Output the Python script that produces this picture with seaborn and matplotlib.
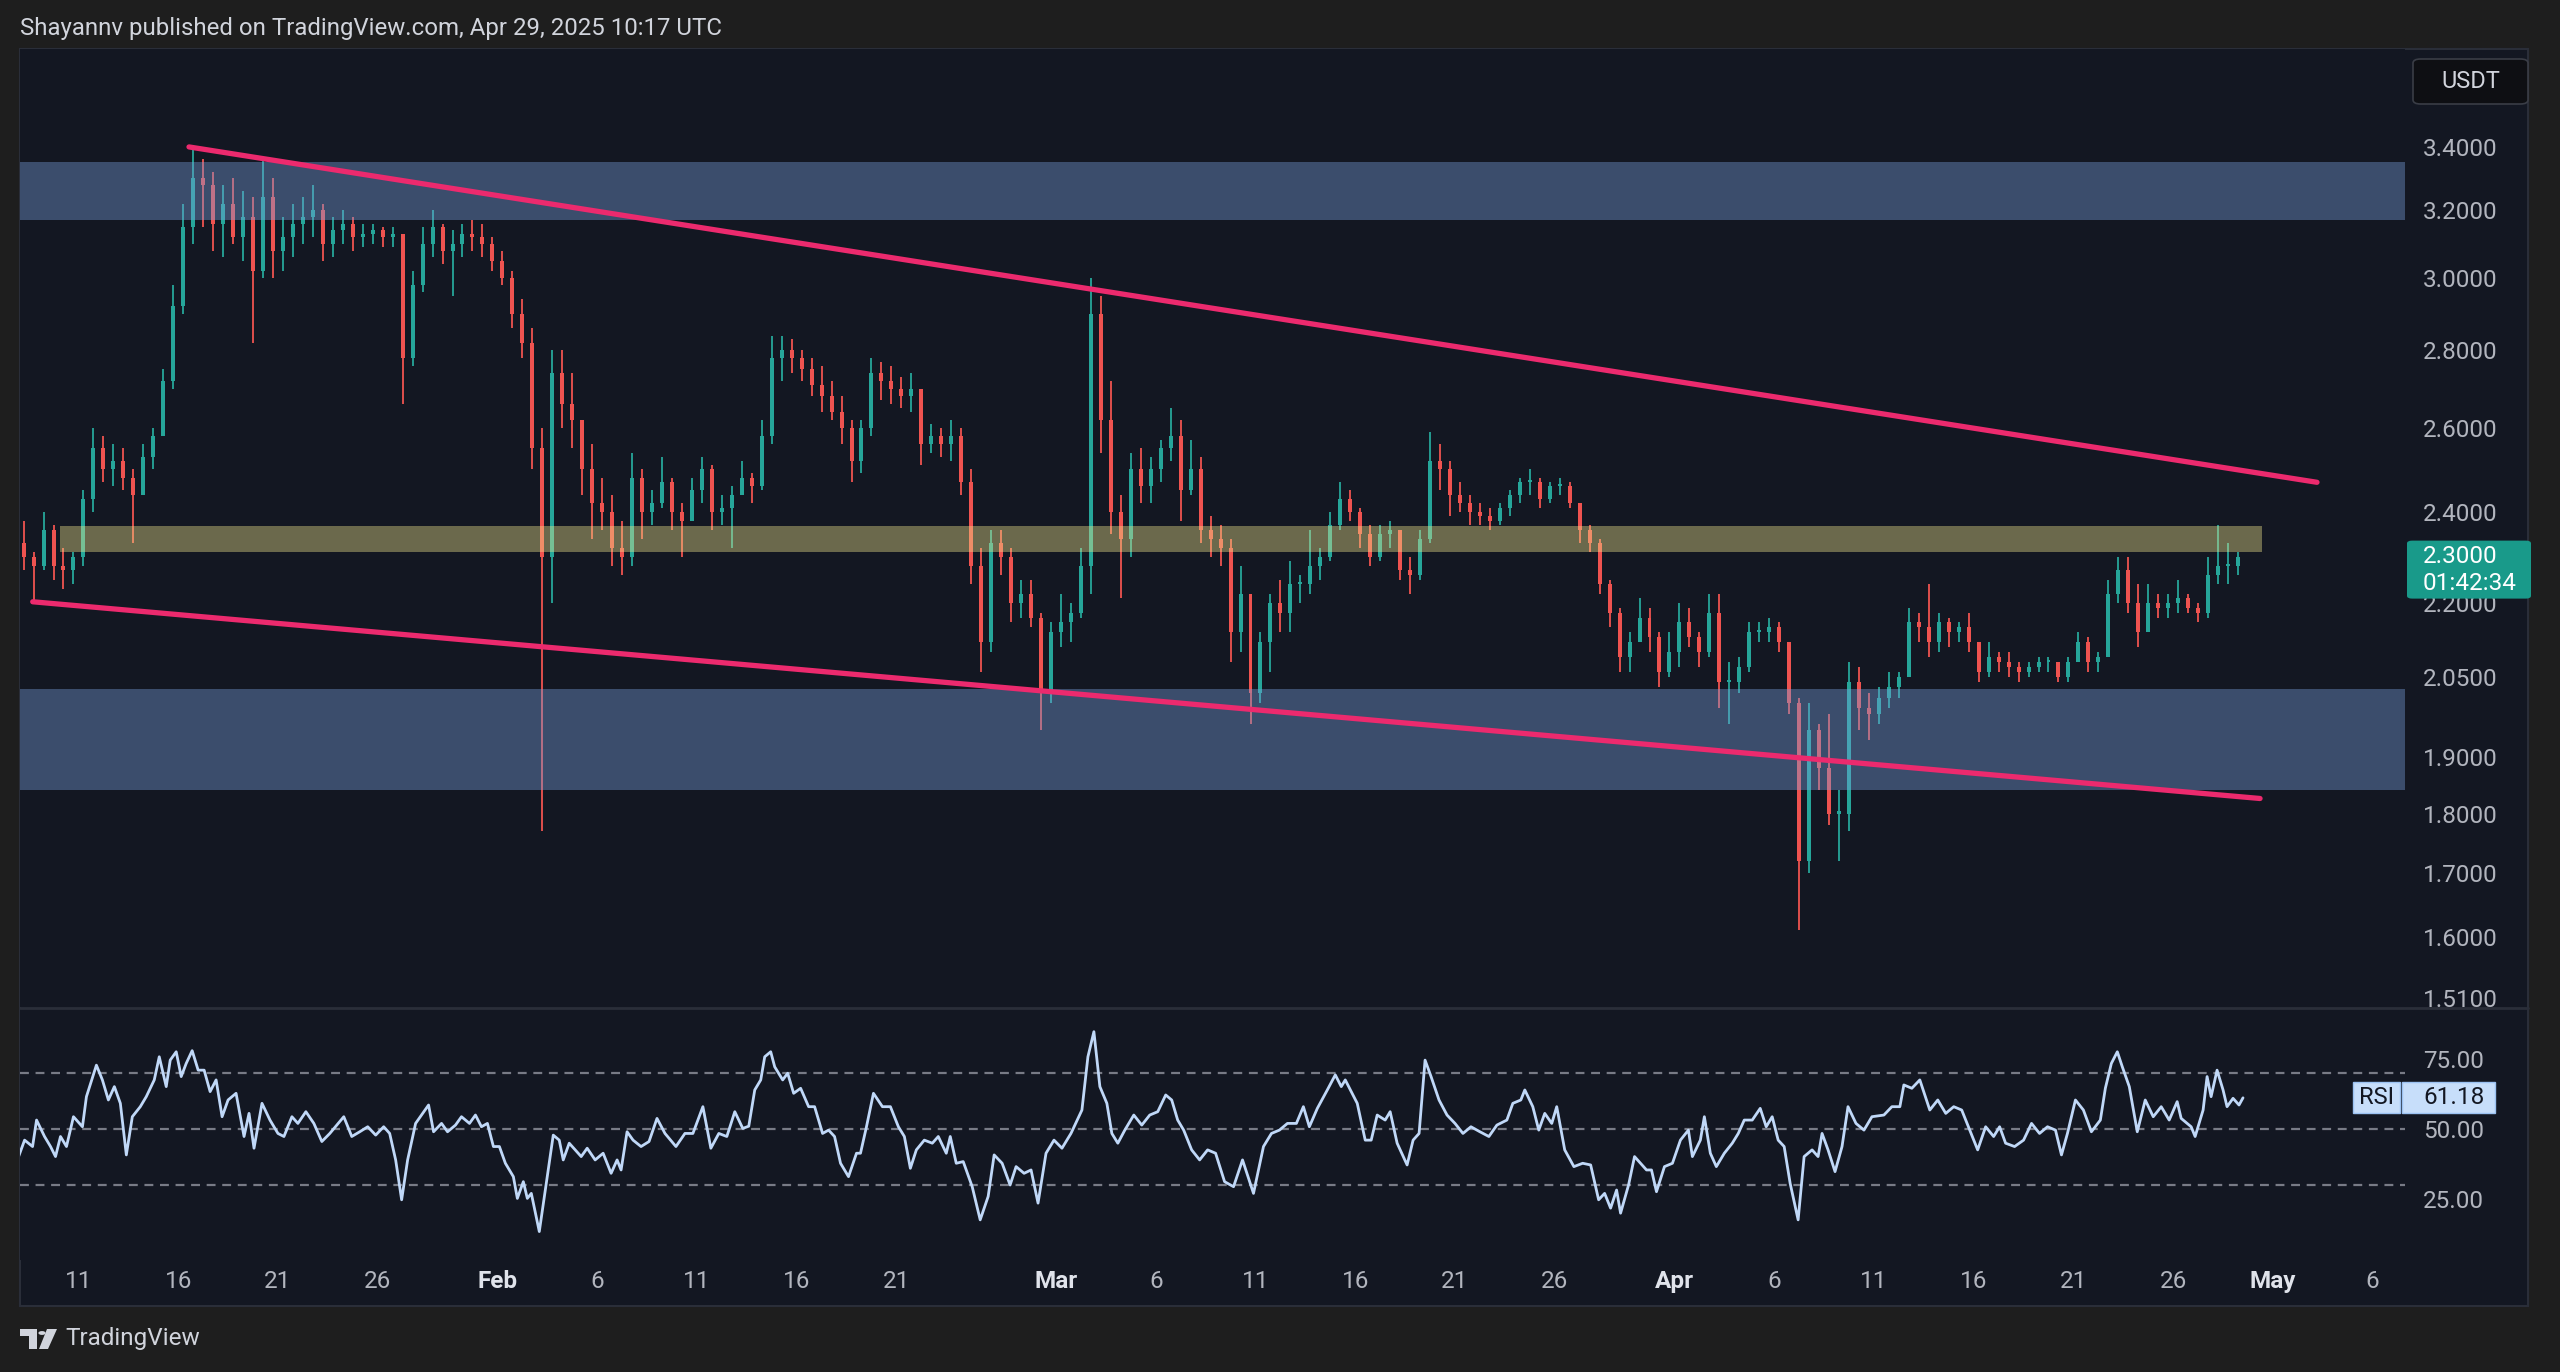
import numpy as np
import pandas as pd
import matplotlib
matplotlib.use("Agg")
import matplotlib.pyplot as plt
from matplotlib.patches import Rectangle, Polygon, Circle, FancyBboxPatch
from matplotlib.lines import Line2D
from matplotlib.ticker import NullLocator, FixedLocator, FixedFormatter
import seaborn as sns

# ------------------------------------------------------------------ data
title = "Shayannv published on TradingView.com, Apr 29, 2025 10:17 UTC"
candle_start = "2025-01-08 06:00"   # centre of first 12h candle
first_open = 2.33
high = [2.38, 2.31, 2.40, 2.37, 2.32, 2.31, 2.45, 2.60, 2.58, 2.56,
        2.55, 2.50, 2.56, 2.60, 2.75, 2.98, 3.22, 3.40, 3.36, 3.32,
        3.28, 3.30, 3.26, 3.24, 3.36, 3.30, 3.18, 3.22, 3.24, 3.28,
        3.22, 3.18, 3.20, 3.18, 3.16, 3.16, 3.15, 3.15, 3.13, 3.02,
        3.15, 3.20, 3.16, 3.14, 3.16, 3.17, 3.16, 3.12, 3.08, 3.02,
        2.94, 2.86, 2.60, 2.80, 2.80, 2.74, 2.62, 2.56, 2.48, 2.44,
        2.38, 2.54, 2.50, 2.45, 2.53, 2.48, 2.42, 2.48, 2.53, 2.51,
        2.44, 2.46, 2.52, 2.49, 2.62, 2.84, 2.84, 2.83, 2.80, 2.78,
        2.76, 2.72, 2.68, 2.62, 2.62, 2.78, 2.77, 2.76, 2.73, 2.74,
        2.70, 2.61, 2.60, 2.62, 2.60, 2.50, 2.32, 2.36, 2.36, 2.32,
        2.25, 2.25, 2.18, 2.16, 2.22, 2.20, 2.32, 3.00, 2.95, 2.72,
        2.44, 2.54, 2.55, 2.53, 2.57, 2.65, 2.62, 2.57, 2.53, 2.39,
        2.37, 2.34, 2.28, 2.22, 2.14, 2.22, 2.25, 2.29, 2.26, 2.36,
        2.32, 2.40, 2.47, 2.45, 2.41, 2.37, 2.37, 2.38, 2.36, 2.30,
        2.36, 2.59, 2.56, 2.52, 2.47, 2.44, 2.42, 2.41, 2.42, 2.45,
        2.48, 2.50, 2.48, 2.47, 2.48, 2.47, 2.42, 2.37, 2.34, 2.25,
        2.19, 2.14, 2.21, 2.19, 2.14, 2.14, 2.20, 2.19, 2.14, 2.22,
        2.22, 2.08, 2.09, 2.16, 2.16, 2.17, 2.16, 2.12, 2.01, 2.00,
        1.96, 1.98, 1.84, 2.08, 2.07, 2.02, 2.03, 2.06, 2.06, 2.19,
        2.18, 2.24, 2.18, 2.17, 2.16, 2.18, 2.12, 2.12, 2.10, 2.10,
        2.08, 2.08, 2.09, 2.09, 2.08, 2.09, 2.14, 2.13, 2.10, 2.25,
        2.30, 2.30, 2.24, 2.24, 2.22, 2.22, 2.25, 2.22, 2.20, 2.30,
        2.37, 2.33, 2.31]
low = [2.27, 2.20, 2.27, 2.25, 2.23, 2.24, 2.28, 2.40, 2.47, 2.46,
       2.45, 2.33, 2.44, 2.50, 2.58, 2.70, 2.90, 3.10, 3.15, 3.08,
       3.06, 3.10, 3.05, 2.82, 3.00, 3.00, 3.02, 3.06, 3.10, 3.12,
       3.05, 3.06, 3.10, 3.08, 3.09, 3.10, 3.09, 3.09, 2.66, 2.76,
       2.96, 3.06, 3.04, 2.95, 3.06, 3.08, 3.06, 3.02, 2.98, 2.86,
       2.78, 2.50, 1.77, 2.20, 2.60, 2.55, 2.44, 2.34, 2.36, 2.28,
       2.26, 2.28, 2.34, 2.37, 2.41, 2.36, 2.30, 2.38, 2.42, 2.36,
       2.37, 2.32, 2.44, 2.42, 2.45, 2.56, 2.72, 2.74, 2.72, 2.68,
       2.64, 2.62, 2.56, 2.47, 2.49, 2.58, 2.67, 2.66, 2.65, 2.64,
       2.51, 2.54, 2.53, 2.52, 2.44, 2.24, 2.06, 2.10, 2.26, 2.16,
       2.17, 2.15, 1.95, 2.00, 2.11, 2.12, 2.17, 2.22, 2.54, 2.35,
       2.21, 2.30, 2.42, 2.42, 2.47, 2.52, 2.38, 2.44, 2.33, 2.30,
       2.28, 2.08, 2.10, 1.96, 2.00, 2.06, 2.14, 2.14, 2.20, 2.22,
       2.25, 2.29, 2.36, 2.38, 2.32, 2.28, 2.29, 2.32, 2.25, 2.22,
       2.25, 2.33, 2.45, 2.39, 2.40, 2.37, 2.37, 2.36, 2.37, 2.39,
       2.42, 2.44, 2.41, 2.42, 2.44, 2.41, 2.33, 2.31, 2.22, 2.15,
       2.06, 2.06, 2.12, 2.10, 2.03, 2.05, 2.07, 2.11, 2.07, 2.09,
       1.99, 1.96, 2.02, 2.06, 2.12, 2.12, 2.10, 1.98, 1.61, 1.70,
       1.84, 1.78, 1.72, 1.77, 1.95, 1.93, 1.96, 1.99, 2.01, 2.05,
       2.12, 2.09, 2.10, 2.11, 2.12, 2.10, 2.04, 2.05, 2.06, 2.05,
       2.04, 2.05, 2.06, 2.06, 2.04, 2.04, 2.08, 2.06, 2.06, 2.09,
       2.20, 2.18, 2.11, 2.14, 2.17, 2.17, 2.18, 2.18, 2.16, 2.17,
       2.24, 2.24, 2.26]
close = [2.30, 2.28, 2.36, 2.28, 2.27, 2.30, 2.43, 2.55, 2.50, 2.52,
         2.48, 2.44, 2.53, 2.58, 2.72, 2.92, 3.15, 3.30, 3.28, 3.16,
         3.22, 3.12, 3.18, 3.02, 3.24, 3.08, 3.12, 3.16, 3.18, 3.20,
         3.10, 3.14, 3.16, 3.12, 3.13, 3.14, 3.12, 3.13, 2.78, 2.98,
         3.10, 3.15, 3.08, 3.10, 3.13, 3.12, 3.10, 3.05, 3.00, 2.90,
         2.82, 2.55, 2.30, 2.74, 2.66, 2.62, 2.50, 2.42, 2.40, 2.32,
         2.30, 2.48, 2.40, 2.42, 2.47, 2.40, 2.38, 2.45, 2.50, 2.40,
         2.41, 2.44, 2.48, 2.46, 2.58, 2.78, 2.80, 2.78, 2.75, 2.71,
         2.68, 2.64, 2.60, 2.52, 2.60, 2.74, 2.72, 2.70, 2.68, 2.70,
         2.56, 2.58, 2.56, 2.58, 2.47, 2.28, 2.12, 2.33, 2.30, 2.20,
         2.22, 2.17, 2.02, 2.14, 2.16, 2.18, 2.28, 2.90, 2.62, 2.40,
         2.34, 2.50, 2.46, 2.50, 2.55, 2.58, 2.45, 2.50, 2.36, 2.34,
         2.32, 2.14, 2.22, 2.02, 2.12, 2.20, 2.18, 2.24, 2.24, 2.28,
         2.30, 2.37, 2.43, 2.40, 2.35, 2.30, 2.35, 2.36, 2.27, 2.26,
         2.34, 2.52, 2.50, 2.44, 2.42, 2.40, 2.39, 2.38, 2.41, 2.44,
         2.47, 2.47, 2.43, 2.46, 2.46, 2.42, 2.36, 2.33, 2.24, 2.18,
         2.09, 2.12, 2.17, 2.13, 2.06, 2.10, 2.16, 2.13, 2.10, 2.18,
         2.04, 2.04, 2.07, 2.14, 2.14, 2.15, 2.12, 2.00, 1.72, 1.95,
         1.88, 1.80, 1.80, 2.04, 1.99, 1.98, 2.01, 2.03, 2.05, 2.16,
         2.15, 2.12, 2.16, 2.14, 2.15, 2.12, 2.06, 2.09, 2.08, 2.07,
         2.06, 2.07, 2.08, 2.08, 2.05, 2.08, 2.12, 2.08, 2.09, 2.22,
         2.27, 2.20, 2.14, 2.20, 2.19, 2.20, 2.21, 2.19, 2.18, 2.26,
         2.28, 2.28, 2.30]

# RSI readings: (days after 2025-01-01 00:00, value)
rsi_day = [7.0, 7.3, 7.7, 7.9, 8.3, 8.6, 8.85, 9.1, 9.4, 9.75, 10.2, 10.4, 10.9, 11.2, 11.5,
           11.8, 12.1, 12.4, 12.7, 13.1, 13.4, 13.8, 14.05, 14.4, 14.6, 14.9, 15.15, 15.4, 15.7,
           16.0, 16.3, 16.6, 16.9, 17.2, 17.5, 17.9, 18.3, 18.55, 18.8, 19.2, 19.6, 20.0, 20.3,
           20.7, 21.0, 21.4, 21.8, 22.2, 22.6, 23.3, 23.7, 24.1, 24.5, 24.9, 25.3, 25.6, 25.9,
           26.2, 26.5, 26.9, 27.55, 27.8, 28.2, 28.5, 28.9, 29.2, 29.6, 29.9, 30.2, 30.5, 30.8,
           31.1, 31.4, 31.8, 32.0, 32.3, 32.5, 32.7, 33.1, 33.4, 33.8, 34.1, 34.3, 34.6, 34.9,
           35.2, 35.5, 35.9, 36.3, 36.7, 37.0, 37.2, 37.5, 37.8, 38.2, 38.6, 39.0, 39.4, 39.95,
           40.4, 40.8, 41.3, 41.7, 42.1, 42.5, 42.9, 43.3, 43.6, 43.9, 44.2, 44.4, 44.7, 44.9,
           45.3, 45.55, 45.85, 46.2, 46.6, 46.9, 47.3, 47.6, 47.9, 48.2, 48.6, 49.0, 49.2, 49.5,
           49.85, 50.3, 50.7, 51.1, 51.4, 51.7, 52.0, 52.4, 52.8, 53.1, 53.5, 53.7, 54.0, 54.35,
           54.8, 55.2, 55.6, 55.9, 56.3, 56.7, 57.0, 57.4, 57.75, 58.1, 58.5, 58.9, 59.3, 59.75,
           60.3, 60.6, 60.9, 61.2, 61.55, 61.8, 62.1, 62.45, 62.9, 63.3, 63.7, 64.1, 64.5, 64.8,
           65.1, 65.4, 65.8, 66.2, 66.6, 67.0, 67.45, 67.9, 68.35, 68.9, 69.4, 69.8, 70.2, 70.6,
           71.05, 71.4, 71.7, 72.1, 72.6, 73.0, 73.3, 73.5, 74.1, 74.5, 74.8, 75.1, 75.5, 75.75,
           76.1, 76.6, 76.9, 77.2, 77.5, 77.8, 78.2, 78.6, 79.0, 79.4, 79.8, 80.25, 80.7, 81.1,
           81.6, 81.9, 82.3, 82.5, 82.9, 83.2, 83.5, 83.85, 84.1, 84.5, 84.96, 85.4, 85.8, 86.2,
           86.5, 86.8, 87.1, 87.3, 87.7, 88.0, 88.6, 88.85, 89.1, 89.5, 89.9, 90.3, 90.7, 90.9,
           91.3, 91.5, 91.8, 92.1, 92.5, 92.9, 93.2, 93.5, 93.9, 94.3, 94.6, 94.9, 95.2, 95.5,
           95.8, 96.2, 96.5, 96.9, 97.2, 97.4, 97.7, 98.05, 98.4, 98.7, 99.1, 99.5, 99.9, 100.5,
           100.9, 101.3, 101.5, 101.9, 102.3, 102.8, 103.2, 103.6, 104.0, 104.4, 104.8, 105.2,
           105.6, 106.0, 106.3, 106.6, 107.05, 107.5, 107.9, 108.3, 108.7, 109.1, 109.4, 109.7,
           110.1, 110.5, 110.9, 111.35, 111.6, 111.9, 112.2, 112.45, 112.8, 113.2, 113.6, 114.0,
           114.4, 114.8, 115.2, 115.4, 115.9, 116.1, 116.5, 116.7, 116.9, 117.2, 117.5, 117.7,
           118.0, 118.3, 118.5]
rsi_value = [40.1, 46.0, 43.7, 53.2, 47.3, 43.7, 40.1, 47.3, 43.7, 54.4, 50.8, 61.6, 72.9, 67.6, 60.4,
             65.2, 59.2, 40.7, 54.4, 58.0, 61.6, 67.6, 75.9, 65.2, 74.7, 77.7, 68.8, 73.5, 78.1,
             71.1, 71.1, 63.4, 67.6, 54.4, 60.4, 62.8, 47.3, 55.6, 43.1, 59.2, 53.2, 48.4, 47.3,
             54.4, 52.0, 56.2, 52.0, 45.5, 48.4, 54.4, 47.3, 49.0, 50.8, 47.8, 50.8, 48.4, 38.9,
             24.6, 38.9, 52.0, 58.6, 49.0, 52.0, 49.0, 51.4, 54.4, 52.0, 55.0, 50.8, 52.0, 43.7,
             43.7, 37.7, 32.9, 25.1, 31.1, 25.1, 26.9, 13.2, 28.1, 47.8, 46.0, 38.9, 44.9, 42.5,
             40.1, 43.1, 38.9, 41.3, 34.1, 38.9, 35.3, 49.0, 46.0, 43.7, 45.5, 53.8, 48.4, 43.7,
             48.4, 48.4, 58.0, 43.1, 48.4, 47.3, 56.2, 50.2, 51.0, 64.0, 67.6, 75.9, 77.7, 72.3,
             67.6, 70.0, 62.8, 64.6, 58.0, 58.0, 48.4, 49.6, 47.3, 37.7, 32.9, 41.3, 41.3, 50.8,
             62.8, 58.0, 58.0, 50.8, 47.3, 35.9, 42.5, 46.0, 44.9, 47.3, 41.3, 47.3, 37.7, 38.3,
             29.3, 17.4, 25.8, 40.7, 37.7, 29.9, 36.5, 34.1, 35.3, 23.4, 41.3, 46.0, 43.1, 48.4,
             56.8, 75.9, 84.9, 65.2, 59.2, 48.4, 44.9, 49.6, 55.0, 51.4, 55.0, 56.2, 62.2, 60.4,
             53.2, 49.6, 42.5, 38.9, 42.5, 41.3, 31.1, 29.3, 38.9, 26.9, 43.7, 48.4, 49.6, 52.0,
             52.0, 58.0, 50.8, 57.4, 64.0, 69.4, 65.2, 67.6, 59.2, 46.0, 46.0, 55.0, 53.2, 56.2,
             44.9, 37.1, 46.0, 48.4, 74.7, 68.8, 60.4, 55.0, 52.0, 48.4, 50.8, 49.0, 47.3, 51.4,
             53.2, 59.2, 60.4, 64.0, 58.0, 49.6, 55.6, 52.0, 58.0, 42.5, 36.5, 37.7, 37.1, 24.6,
             26.9, 21.6, 28.1, 19.8, 29.9, 40.1, 35.3, 35.3, 27.5, 36.5, 37.7, 46.0, 49.6, 40.1,
             46.0, 54.4, 41.3, 36.5, 41.3, 44.9, 48.4, 53.2, 53.2, 57.4, 50.8, 54.4, 46.0, 43.7,
             30.5, 17.4, 40.1, 42.5, 40.1, 48.4, 42.5, 34.7, 43.7, 58.0, 52.0, 49.6, 54.4, 55.0,
             58.0, 58.0, 65.8, 64.6, 67.6, 56.8, 60.4, 55.6, 58.0, 56.8, 49.6, 42.5,
             50.8, 47.3, 50.8, 44.9, 43.7, 46.0, 52.0, 48.4, 50.8, 49.6, 40.7, 48.4,
             60.4, 56.8, 49.0, 53.2, 64.6, 73.5, 77.7, 72.3, 65.2, 49.0, 60.4, 54.4,
             58.0, 53.2, 59.8, 53.8, 50.8, 47.3, 56.8, 68.8, 61.6, 71.1, 64.0, 58.0,
             61.0, 58.6, 61.18]
rsi_last = 61.18
rsi_levels = [70, 50, 30]
rsi_ticks = [75, 50, 25]

upper_band = (3.171, 3.352)
lower_band = (1.840, 2.027)
mid_band = (2.310, 2.368)
mid_band_dates = ["2025-01-10 02:00", "2025-04-30 11:00"]

upper_trend_dates = ["2025-01-16 13:00", "2025-05-03 05:00"]
upper_trend_prices = [3.40, 2.469]
lower_trend_dates = ["2025-01-08 17:00", "2025-04-30 08:30"]
lower_trend_prices = [2.203, 1.826]

price_ticks = [3.4, 3.2, 3.0, 2.8, 2.6, 2.4, 2.2, 2.05, 1.9, 1.8, 1.7, 1.6, 1.51]
date_ticks = ["2025-01-11", "2025-01-16", "2025-01-21", "2025-01-26", "2025-02-01",
              "2025-02-06", "2025-02-11", "2025-02-16", "2025-02-21", "2025-03-01",
              "2025-03-06", "2025-03-11", "2025-03-16", "2025-03-21", "2025-03-26",
              "2025-04-01", "2025-04-06", "2025-04-11", "2025-04-16", "2025-04-21",
              "2025-04-26", "2025-05-01", "2025-05-06"]
date_labels = ["11", "16", "21", "26", "Feb", "6", "11", "16", "21", "Mar", "6", "11",
               "16", "21", "26", "Apr", "6", "11", "16", "21", "26", "May", "6"]
month_labels = {"Feb", "Mar", "Apr", "May"}
last_price = 2.30
countdown = "01:42:34"
currency = "USDT"
brand = "TradingView"

# ------------------------------------------------------------------ style
BG = "#131722"
OUTER = "#1e1e1e"
UP = "#26a69a"
DOWN = "#ef5350"
PINK = "#ec2a6e"
TXT = "#b2b5be"
BAND_BLUE = (120 / 255, 160 / 255, 220 / 255)
BAND_YEL = (240 / 255, 230 / 255, 140 / 255)

sns.set_style("dark", {"axes.facecolor": BG, "figure.facecolor": OUTER})
plt.rcParams["font.family"] = ["Roboto", "DejaVu Sans"]

W, H = 2560, 1372
fig = plt.figure(figsize=(W / 100, H / 100), dpi=100)
fig.patch.set_facecolor(OUTER)


def fx(px):
    return px / W


def fy(py):
    return 1 - py / H


def frect(x0, y0, x1, y1):
    return [fx(x0), fy(y1), fx(x1) - fx(x0), fy(y0) - fy(y1)]


fig.add_artist(Rectangle((fx(20), fy(1306)), fx(2528) - fx(20), fy(49) - fy(1306),
                         transform=fig.transFigure, facecolor=BG, edgecolor="#2a2e39",
                         linewidth=1.5, zorder=-5))

ax = fig.add_axes(frect(20, 49, 2405, 1007))
axr = fig.add_axes(frect(20, 1008, 2405, 1260), sharex=ax)
for a in (ax, axr):
    a.set_facecolor(BG)
    for s in a.spines.values():
        s.set_visible(False)
    a.grid(False)

# ------------------------------------------------------------------ price pane
ax.set_yscale("log")
dates = pd.date_range(candle_start, periods=len(close), freq="12h")
c = np.array(close)
h = np.array(high)
l = np.array(low)
o = np.r_[first_open, c[:-1]]
col = np.where(c >= o, UP, DOWN)
ax.vlines(dates, l, h, colors=col, linewidth=1.3, zorder=2)
lo = np.minimum(o, c)
hi = np.maximum(o, c)
ax.bar(dates, np.maximum(hi - lo, 0.004), bottom=lo, width=0.2, color=col,
       linewidth=0, zorder=2)

ax.axhspan(upper_band[0], upper_band[1], color=BAND_BLUE, alpha=0.4, lw=0, zorder=3)
ax.axhspan(lower_band[0], lower_band[1], color=BAND_BLUE, alpha=0.4, lw=0, zorder=3)
ax.fill_between(pd.to_datetime(mid_band_dates), mid_band[0], mid_band[1],
                color=BAND_YEL, alpha=0.4, lw=0, zorder=3)

sns.lineplot(x=pd.to_datetime(upper_trend_dates), y=upper_trend_prices, ax=ax,
             color=PINK, linewidth=3.8, zorder=4, solid_capstyle="round")
sns.lineplot(x=pd.to_datetime(lower_trend_dates), y=lower_trend_prices, ax=ax,
             color=PINK, linewidth=3.8, zorder=4, solid_capstyle="round")

t0 = pd.Timestamp("2025-01-01")
ax.set_xlim(t0 + pd.Timedelta(days=7.07), t0 + pd.Timedelta(days=126.62))
ax.set_ylim(1.4966, 3.733)
ax.yaxis.tick_right()
ax.yaxis.set_major_locator(FixedLocator(price_ticks))
ax.yaxis.set_major_formatter(FixedFormatter([f"{v:.4f}" for v in price_ticks]))
ax.yaxis.set_minor_locator(NullLocator())
ax.tick_params(axis="y", which="both", length=0, pad=13, labelsize=17.5,
               labelcolor=TXT, right=True, left=False, labelright=True, labelleft=False)
ax.tick_params(axis="x", which="both", length=0, labelbottom=False)
ax.set_xlabel("")
ax.set_ylabel("")

# ------------------------------------------------------------------ RSI pane
rsi_dates = t0 + pd.to_timedelta(rsi_day, unit="D")
sns.lineplot(x=rsi_dates, y=rsi_value, ax=axr, color="#c0d8f8", linewidth=2.0,
             estimator=None, sort=False, zorder=3)
for lv in rsi_levels:
    axr.axhline(lv, color="#787b86", linewidth=1.6, linestyle=(0, (4, 3)), zorder=2)
axr.set_ylim(3, 93.4)
axr.yaxis.tick_right()
axr.set_yticks(rsi_ticks)
axr.set_yticklabels([f"{v:.2f}" for v in rsi_ticks])
axr.tick_params(axis="y", length=0, pad=13, labelsize=17.5, labelcolor=TXT,
                right=True, left=False, labelright=True, labelleft=False)
axr.set_xticks(pd.to_datetime(date_ticks))
axr.set_xticklabels(date_labels)
axr.tick_params(axis="x", length=0, pad=7, labelsize=17.5, labelcolor=TXT)
for lbl in axr.get_xticklabels():
    if lbl.get_text() in month_labels:
        lbl.set_fontweight("bold")
        lbl.set_color("#e0e3eb")
axr.set_xlabel("")
axr.set_ylabel("")
ax.set_xlim(t0 + pd.Timedelta(days=7.07), t0 + pd.Timedelta(days=126.62))

# pane separator
fig.add_artist(Line2D([fx(20), fx(2528)], [fy(1007.5), fy(1007.5)],
                      transform=fig.transFigure, color="#2a2e39", linewidth=2, zorder=5))

# ------------------------------------------------------------------ labels
fig.canvas.draw()
y_rsi = H - axr.transData.transform((axr.get_xlim()[0], rsi_last))[1]
fig.add_artist(Rectangle((fx(2353), fy(y_rsi + 15.5)), fx(2400) - fx(2353), 31 / H,
                         transform=fig.transFigure, facecolor="#c7defa",
                         edgecolor="#9cc2f2", linewidth=1, zorder=6))
fig.add_artist(Rectangle((fx(2402), fy(y_rsi + 15.5)), fx(2495) - fx(2402), 31 / H,
                         transform=fig.transFigure, facecolor="#c7defa",
                         edgecolor="#9cc2f2", linewidth=1, zorder=6))
fig.text(fx(2376.5), fy(y_rsi), "RSI", ha="center", va="center", fontsize=17,
         color="#131722", zorder=7)
fig.text(fx(2423), fy(y_rsi), f"{rsi_last:.2f}", ha="left", va="center", fontsize=17.5,
         color="#131722", zorder=7)

y_price = H - ax.transData.transform((ax.get_xlim()[0], last_price))[1]
fig.add_artist(FancyBboxPatch((fx(2407), fy(y_price + 42)), fx(2531) - fx(2407), 58 / H,
                              boxstyle="round,pad=0,rounding_size=0.002",
                              transform=fig.transFigure, facecolor="#199a8a",
                              edgecolor="none", zorder=6))
fig.text(fx(2423), fy(y_price), f"{last_price:.4f}", ha="left", va="center",
         fontsize=17.5, color="white", zorder=7)
fig.text(fx(2423), fy(y_price + 27), countdown, ha="left", va="center",
         fontsize=17.5, color="white", zorder=7)

fig.add_artist(FancyBboxPatch((fx(2413), fy(104)), fx(2528) - fx(2413), 45 / H,
                              boxstyle="round,pad=0,rounding_size=0.003",
                              transform=fig.transFigure, facecolor="#0e0f13",
                              edgecolor="#3a3d46", linewidth=1.2, zorder=6))
fig.text(fx(2470.5), fy(81.5), currency, ha="center", va="center", fontsize=17,
         color="#d1d4dc", zorder=7)

fig.text(fx(20), fy(29), title, ha="left", va="center", fontsize=17.3, color="#d1d4dc")

# footer logo + brand
fig.add_artist(Rectangle((fx(20), fy(1336)), fx(37) - fx(20), 7 / H,
                         transform=fig.transFigure, facecolor="#d1d4dc", lw=0))
fig.add_artist(Rectangle((fx(29), fy(1349)), fx(37) - fx(29), 20 / H,
                         transform=fig.transFigure, facecolor="#d1d4dc", lw=0))
fig.add_artist(Circle((fx(42), fy(1333)), 3.6 / W, transform=fig.transFigure,
                      facecolor="#d1d4dc", lw=0))
fig.add_artist(Polygon([(fx(47), fy(1329)), (fx(57), fy(1329)), (fx(48), fy(1349)),
                        (fx(39), fy(1349))], closed=True, transform=fig.transFigure,
                       facecolor="#d1d4dc", lw=0))
fig.text(fx(65), fy(1339), brand, ha="left", va="center", fontsize=17.5, color="#d1d4dc")

fig.savefig("out.png", dpi=100, facecolor=OUTER)
